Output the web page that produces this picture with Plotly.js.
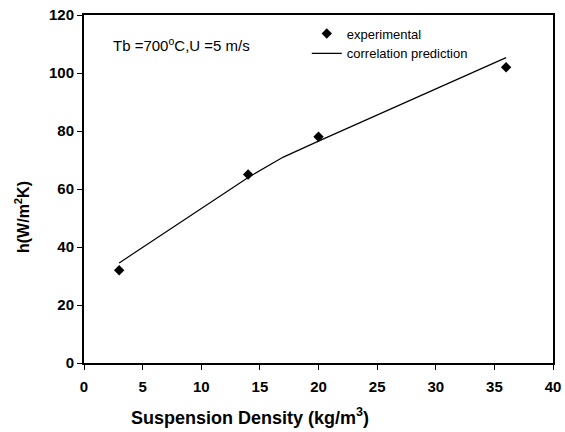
<!DOCTYPE html>
<html><head><meta charset="utf-8">
<script src="https://cdn.plot.ly/plotly-3.0.1.min.js"></script>
<style>body{margin:0;background:#fff}#c{width:565px;height:432px}</style>
</head><body><div id="c"></div>
<script>
const expX = [3, 14, 20, 36];
const expY = [32, 65, 78, 102];
const corrX = [3, 14, 17, 20, 36];
const corrY = [34.5, 64, 71, 76.5, 105.3];
const xTicks = [0, 5, 10, 15, 20, 25, 30, 35, 40];
const yTicks = [0, 20, 40, 60, 80, 100, 120];

const F = 'Arial, "Liberation Sans", sans-serif';
const traces = [
  {x: expX, y: expY, mode: 'markers', name: 'experimental',
   marker: {symbol: 'diamond', size: 8, color: '#000'}},
  {x: corrX, y: corrY, mode: 'lines', name: 'correlation prediction',
   line: {color: '#000', width: 1.2}}
];
const layout = {
  width: 565, height: 432,
  margin: {l: 84, r: 12, t: 15, b: 69},
  paper_bgcolor: '#fff', plot_bgcolor: '#fff',
  showlegend: true,
  legend: {x: 0.475, y: 0.99, xanchor: 'left', yanchor: 'top', bgcolor: 'rgba(0,0,0,0)',
           font: {family: F, size: 13, color: '#000'}, tracegroupgap: 0, itemwidth: 30},
  xaxis: {
    range: [0, 40], tickmode: 'array', tickvals: xTicks, ticktext: xTicks.map(String),
    showgrid: false, zeroline: false, showline: true, linecolor: '#000', linewidth: 2,
    mirror: true, ticks: 'outside', ticklen: 5, tickwidth: 1, tickcolor: '#000',
    tickfont: {family: F, size: 15, color: '#000', weight: 700}, ticklabelstandoff: 4
  },
  yaxis: {
    range: [0, 120], tickmode: 'array', tickvals: yTicks, ticktext: yTicks.map(String),
    showgrid: false, zeroline: false, showline: true, linecolor: '#000', linewidth: 2,
    mirror: true, ticks: 'outside', ticklen: 5, tickwidth: 1, tickcolor: '#000',
    tickfont: {family: F, size: 15, color: '#000', weight: 700}
  },
  annotations: [
    {text: 'Tb =700<sup>o</sup>C,U =5 m/s', xref: 'paper', yref: 'paper', x: 0.058, y: 0.915,
     xanchor: 'left', yanchor: 'middle', showarrow: false, font: {family: F, size: 15, color: '#000'}},
    {text: '<b>Suspension Density (kg/m<sup>3</sup>)</b>', xref: 'paper', yref: 'paper', x: 0, y: 0,
     xanchor: 'center', yanchor: 'middle', showarrow: false, font: {family: F, size: 18, color: '#000'}},
    {text: '<b>h(W/m<sup>2</sup>K)</b>', xref: 'paper', yref: 'paper', x: 0, y: 0,
     xanchor: 'center', yanchor: 'middle', textangle: -90, showarrow: false, font: {family: F, size: 16, color: '#000'}}
  ]
};
layout.annotations[1].x = (250 - 84) / (553 - 84);
layout.annotations[1].y = (363 - 416) / (363 - 15);
layout.annotations[2].x = (22 - 84) / (553 - 84);
layout.annotations[2].y = (363 - 217) / (363 - 15);
Plotly.newPlot('c', traces, layout, {displayModeBar: false, staticPlot: true});
</script></body></html>
